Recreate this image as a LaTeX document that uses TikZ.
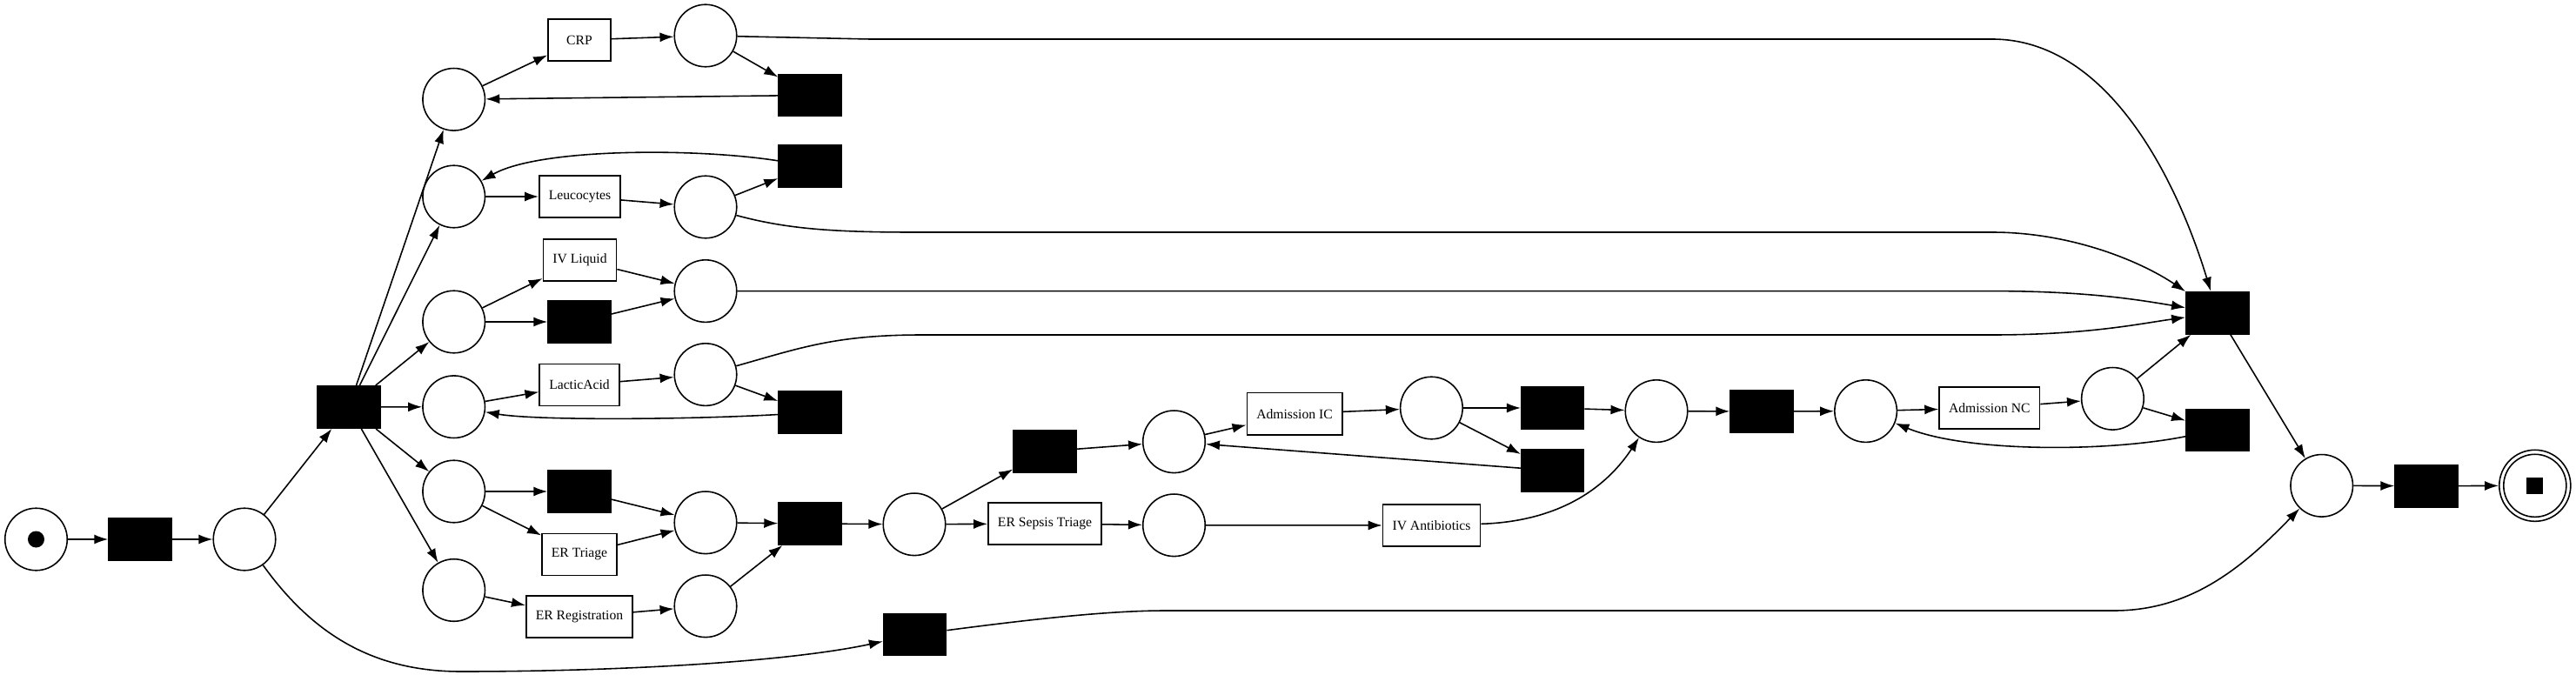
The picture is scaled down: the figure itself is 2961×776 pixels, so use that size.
\documentclass[tikz,border=0pt]{standalone}
\usepackage{fontspec}
\setmainfont{Liberation Serif}
\usetikzlibrary{arrows.meta}

\newcommand{\lbl}{\fontsize{4.45}{5}\selectfont}
\tikzset{
    place/.style={circle, draw, line width=0.45pt, minimum size=0.715cm, inner sep=0pt},
    trans/.style={rectangle, draw, line width=0.45pt, minimum width=0.72cm, minimum height=0.48cm, inner xsep=0.11cm, inner ysep=0pt, font=\lbl},
    silent/.style={rectangle, draw, fill=black, minimum width=0.72cm, minimum height=0.485cm, inner sep=0pt},
    arc/.style={-{Latex[length=1.6mm,width=1.1mm]}, line width=0.45pt},
}

\begin{document}
\begin{tikzpicture}[x=0.01cm,y=-0.01cm]
    \useasboundingbox (0,0) rectangle (2961,776);

    % Start and split
    \node[place] (pStart) at (41.5,620) {};
    \fill (pStart) circle (0.095cm);
    \node[silent] (tStart) at (161,620) {};
    \node[place] (p1) at (281,620) {};
    \node[silent] (tSplit) at (401,468) {};
    \node[silent] (tauSkip) at (1051.6,729.5) {};

    % Places after the split
    \foreach \name/\y in {pCRP/114.3, pLeu/226, pIV/370, pLA/467.7, pTri/565, pReg/678.5} {
        \node[place] (\name) at (521.7,\y) {};
    }

    % Activities in parallel
    \node[trans] (tCRP) at (666,46) {CRP};
    \node[trans] (tLeu) at (666.5,226) {Leucocytes};
    \node[trans] (tIV) at (666.5,299) {IV Liquid};
    \node[silent] (tauIV) at (666,370) {};
    \node[trans] (tLA) at (666,442.5) {LacticAcid};
    \node[silent] (tauTri) at (666,565) {};
    \node[trans] (tTri) at (666,637.5) {ER Triage};
    \node[trans] (tReg) at (666,709) {ER Registration};

    \foreach \name/\y in {pCRP2/41, pLeu2/238, pIV2/334.6, pLA2/430.6, pTri2/600.8, pReg2/696.8} {
        \node[place] (\name) at (811,\y) {};
    }

    % Loops and join
    \node[silent] (tauCRP) at (931,109.5) {};
    \node[silent] (tauLeu) at (931,190.6) {};
    \node[silent] (tauLA) at (931,474.4) {};
    \node[silent] (tJoinER) at (931,602) {};

    % Sepsis part
    \node[place] (pSep) at (1051,602.8) {};
    \node[silent] (tauIC) at (1201,519) {};
    \node[trans] (tSepTri) at (1201,602) {ER Sepsis Triage};
    \node[place] (pIC) at (1349.5,507.8) {};
    \node[place] (pSepTri) at (1349.5,603.8) {};
    \node[trans] (tAdmIC) at (1488,475.7) {Admission IC};
    \node[trans] (tIVAB) at (1645.5,604) {IV Antibiotics};
    \node[place] (pIC2) at (1645.4,469) {};
    \node[silent] (tauICok) at (1784.7,469) {};
    \node[silent] (tauICback) at (1784.7,541) {};
    \node[place] (pAB) at (1904,472.6) {};
    \node[silent] (tauNC) at (2025,473) {};
    \node[place] (pNC) at (2144.6,472.6) {};
    \node[trans] (tAdmNC) at (2286.8,469) {Admission NC};
    \node[place] (pNC2) at (2428.4,458.3) {};
    \node[silent] (tauNCback) at (2548.8,494.5) {};
    \node[silent] (tJoinAll) at (2548.8,359.8) {};

    % End
    \node[place] (pFin) at (2668.7,558.3) {};
    \node[silent] (tEnd) at (2789,558.7) {};
    \node[place, minimum size=0.82cm] (pEnd) at (2913.8,558.3) {};
    \draw[line width=0.45pt] (pEnd) circle (0.36cm);
    \fill ([shift={(-0.095cm,-0.095cm)}]pEnd.center) rectangle +(0.19cm,0.19cm);

    % Arcs
    \draw[arc] (pStart) -- (tStart);
    \draw[arc] (tStart) -- (p1);
    \draw[arc] (p1) -- (tSplit);
    \draw[arc] (p1) .. controls (360,730) and (430,772) .. (530,772) .. controls (700,772) and (900,762) .. (tauSkip);
    \foreach \name in {pCRP, pLeu, pIV, pLA, pTri, pReg} {
        \draw[arc] (tSplit) -- (\name);
    }

    \draw[arc] (pCRP) -- (tCRP);
    \draw[arc] (tCRP) -- (pCRP2);
    \draw[arc] (pCRP2) -- (tauCRP);
    \draw[arc] (tauCRP) -- (pCRP);

    \draw[arc] (pLeu) -- (tLeu);
    \draw[arc] (tLeu) -- (pLeu2);
    \draw[arc] (pLeu2) -- (tauLeu);
    \draw[arc] (tauLeu) .. controls (800,170) and (620,170) .. (pLeu);

    \draw[arc] (pIV) -- (tIV);
    \draw[arc] (pIV) -- (tauIV);
    \draw[arc] (tIV) -- (pIV2);
    \draw[arc] (tauIV) -- (pIV2);

    \draw[arc] (pLA) -- (tLA);
    \draw[arc] (tLA) -- (pLA2);
    \draw[arc] (pLA2) -- (tauLA);
    \draw[arc] (tauLA) .. controls (800,482) and (620,484) .. (pLA);

    \draw[arc] (pTri) -- (tauTri);
    \draw[arc] (pTri) -- (tTri);
    \draw[arc] (tauTri) -- (pTri2);
    \draw[arc] (tTri) -- (pTri2);

    \draw[arc] (pReg) -- (tReg);
    \draw[arc] (tReg) -- (pReg2);
    \draw[arc] (pTri2) -- (tJoinER);
    \draw[arc] (pReg2) -- (tJoinER);
    \draw[arc] (tJoinER) -- (pSep);

    \draw[arc] (pSep) -- (tauIC);
    \draw[arc] (pSep) -- (tSepTri);
    \draw[arc] (tauIC) -- (pIC);
    \draw[arc] (pIC) -- (tAdmIC);
    \draw[arc] (tAdmIC) -- (pIC2);
    \draw[arc] (pIC2) -- (tauICok);
    \draw[arc] (pIC2) -- (tauICback);
    \draw[arc] (tauICback) -- (pIC);
    \draw[arc] (tSepTri) -- (pSepTri);
    \draw[arc] (pSepTri) -- (tIVAB);
    \draw[arc] (tauICok) -- (pAB);
    \draw[arc] (tIVAB) .. controls (1780,600) and (1840,570) .. (pAB);

    \draw[arc] (pAB) -- (tauNC);
    \draw[arc] (tauNC) -- (pNC);
    \draw[arc] (pNC) -- (tAdmNC);
    \draw[arc] (tAdmNC) -- (pNC2);
    \draw[arc] (pNC2) -- (tJoinAll);
    \draw[arc] (pNC2) -- (tauNCback);
    \draw[arc] (tauNCback) .. controls (2420,520) and (2260,520) .. (pNC);

    % Long arcs into the join
    \draw[arc] (pCRP2) -- (1000,45) -- (2290,45) .. controls (2420,45) and (2500,200) .. (tJoinAll);
    \draw[arc] (pLeu2) .. controls (900,262) and (950,267) .. (1050,267) -- (2290,267) .. controls (2380,267) and (2460,300) .. (tJoinAll);
    \draw[arc] (pIV2) -- (2290,334.6) .. controls (2400,334.6) and (2460,345) .. (tJoinAll);
    \draw[arc] (pLA2) .. controls (920,400) and (960,385) .. (1060,385) -- (2290,385) .. controls (2400,385) and (2460,372) .. (tJoinAll);

    \draw[arc] (tJoinAll) -- (pFin);
    \draw[arc] (tauSkip) .. controls (1200,710) and (1280,702) .. (1340,702) -- (2430,702) .. controls (2520,702) and (2580,650) .. (pFin);
    \draw[arc] (pFin) -- (tEnd);
    \draw[arc] (tEnd) -- (pEnd);
\end{tikzpicture}
\end{document}
